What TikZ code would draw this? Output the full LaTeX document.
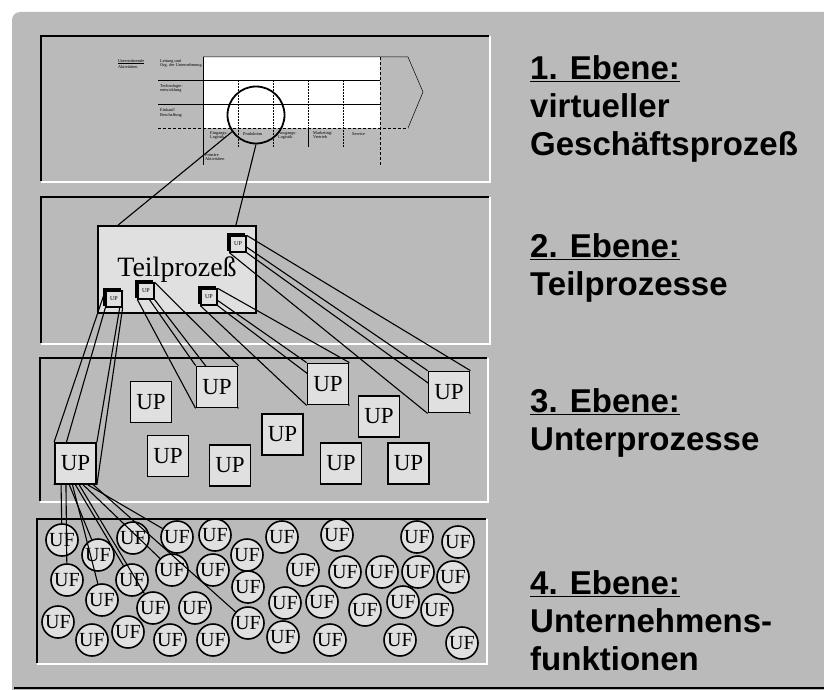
\documentclass[tikz,border=0pt]{standalone}
\usepackage{fontspec}
\setmainfont{Liberation Serif}
\newfontfamily\headfont{Liberation Sans Bold}
\usetikzlibrary{shadows}

\definecolor{screen}{gray}{0.73}
\definecolor{paper}{gray}{0.88}

\pgfdeclarelayer{ground}
\pgfdeclarelayer{edges}
\pgfsetlayers{ground,edges,main}

\begin{document}
\begin{tikzpicture}[
  x=1pt, y=-1pt,
  frame/.style={line width=2.2pt, line cap=rect},
  hilite/.style={white, line width=1.4pt},
  up/.style={draw, line width=1.8pt, fill=paper, minimum size=41pt,
             inner sep=0pt, font=\fontsize{23}{23}\selectfont},
  mini/.style={draw, line width=1.3pt, fill=paper, minimum size=16pt,
               inner sep=0pt, font=\fontsize{6}{6}\selectfont,
               copy shadow={shadow xshift=-2pt, shadow yshift=2pt,
                            draw, fill=paper, line width=1.1pt}},
  uf/.style={circle, draw, line width=1.6pt, fill=paper, minimum size=32pt,
             inner sep=0pt, font=\fontsize{20}{20}\selectfont},
  ray/.style={line width=1.1pt},
  fine/.style={line width=0.5pt},
  tiny/.style={font=\fontsize{4.3}{4.8}\selectfont, inner sep=0pt,
               align=left, anchor=north west},
  lvl/.style={font=\headfont\fontsize{33}{38}\selectfont,
              align=left, anchor=north west, inner sep=0pt},
]
  \useasboundingbox (0,0) rectangle (824,690);

  % --- Background and level panels ---
  \begin{pgfonlayer}{ground}
    \fill[screen, rounded corners=8pt] (12,12) rectangle (832,698);
    \draw[line width=1.2pt] (14,688) -- (824,688);
    \foreach \l/\t/\r/\b in {41/36/488/180, 41/197/488/342,
                             40/358/486/500, 37/519/485/662} {
      \draw[hilite] (\r+2,\t) |- (\l,\b+2);
      \draw[frame] (\l,\b) |- (\r,\t);
    }
  \end{pgfonlayer}

  % ======== (1) value chain ========
  \fill[white] (203,57) rectangle (380,128);
  \draw[fine] (203,57) -- (408,57) -- (423,92) -- (408,128);
  \draw[fine, densely dashed] (158,128) -- (408,128);
  \draw[fine] (158,80) -- (380,80);
  \draw[fine] (158,104) -- (380,104);
  \draw[fine] (203,57) -- (203,165);
  \draw[fine, densely dashed] (380,57) -- (380,165);
  \foreach \x in {238,273,343}
    \draw[fine, densely dotted] (\x,80) -- (\x,147);
  \draw[fine, densely dotted] (308,80) -- (308,128);
  \draw[fine] (308,128) -- (308,147);

  \node[tiny] (supp) at (118,59) {\underline{Unterstützende}\\Aktivitäten};
  \node[tiny] (rowA) at (160,59) {Leitung und\\Org. der Unternehmung};
  \node[tiny] (rowB) at (160,84) {Technologie-\\entwicklung};
  \node[tiny] (rowC) at (160,108) {Einkauf/\\Beschaffung};
  \node[tiny] (colA) at (210,131) {Eingangs-\\Logistik};
  \node[tiny] (colB) at (243,132) {Produktion};
  \node[tiny] (colC) at (278,131) {Ausgangs-\\Logistik};
  \node[tiny] (colD) at (313,131) {Marketing/\\Vertrieb};
  \node[tiny] (colE) at (352,132) {Service};
  \node[tiny] (prim) at (205,153) {Primäre\\Aktivitäten};

  \node[circle, draw, line width=1.8pt, minimum size=57pt, inner sep=0pt]
    (lupe) at (256,115) {};

  % ======== (2) Teilprozess ========
  \begin{pgfonlayer}{ground}
    \node[draw, line width=1.8pt, fill=paper, minimum width=158pt,
          minimum height=87pt, inner sep=0pt, font=\fontsize{28}{28}\selectfont]
      (tp) at (177,269.5) {Teilprozeß};
  \end{pgfonlayer}
  \draw[ray] (lupe.215) -- (tp.143);
  \draw[ray] (lupe.south) -- (tp.37);

  \node[mini] (sA) at (114,299) {UP};
  \node[mini] (sB) at (146,291) {UP};
  \node[mini] (sC) at (209,297) {UP};
  \node[mini] (sD) at (238,244) {UP};

  % ======== (3) Unterprozesse ========
  \node[up] (upA) at (75.5,463.5) {UP};
  \node[up] (upB) at (151,402) {UP};
  \node[up] (upC) at (217,387) {UP};
  \node[up] (upD) at (168,456) {UP};
  \node[up] (upE) at (230,465.5) {UP};
  \node[up] (upF) at (282.5,434.5) {UP};
  \node[up] (upG) at (328,384) {UP};
  \node[up] (upH) at (379,416.5) {UP};
  \node[up] (upI) at (341,463.5) {UP};
  \node[up] (upJ) at (408.5,463.5) {UP};
  \node[up] (upK) at (449,392) {UP};

  % prism edges, small box -> UP box
  \begin{pgfonlayer}{edges}
    \foreach \s/\u in {sA/upA, sB/upC, sC/upG, sD/upK}
      \foreach \c in {north west, north east, south west, south east}
        \draw[ray] (\s.\c) -- (\u.\c);
  \end{pgfonlayer}

  % ======== (4) Unternehmensfunktionen ========
  \foreach \n/\x/\y in {1/62/540, 2/98/555, 3/133/538, 4/177/537, 5/215/535,
                        6/247/555, 7/282/537, 8/337/535, 9/417/537, 10/458/542,
                        11/67/580, 12/132/580, 13/172/570, 14/213/570, 15/248/587,
                        16/303/570, 17/345/572, 18/382/572, 19/418/572, 20/453/577,
                        21/102/600, 22/153/608, 23/195/608, 24/285/603, 25/322/602,
                        26/365/610, 27/403/602, 28/437/610, 29/58/622, 30/92/640,
                        31/128/632, 32/170/640, 33/213/640, 34/248/623, 35/283/637,
                        36/330/640, 37/400/640, 38/462/643}
    \node[uf] (uf\n) at (\x,\y) {UF};

  \foreach \a/\t in {236/1, 246/11, 254/2, 262/21, 270/12, 280/22,
                     290/13, 300/4, 310/34}
    \draw[ray] (upA.\a) -- (uf\t);

  % --- Level captions ---
  \node[lvl] (capA) at (530,55)
    {\underline{1. Ebene:}\\virtueller\\Geschäftsprozeß};
  \node[lvl] (capB) at (530,233) {\underline{2. Ebene:}\\Teilprozesse};
  \node[lvl] (capC) at (530,388) {\underline{3. Ebene:}\\Unterprozesse};
  \node[lvl] (capD) at (530,570)
    {\underline{4. Ebene:}\\Unternehmens-\\funktionen};
\end{tikzpicture}
\end{document}
